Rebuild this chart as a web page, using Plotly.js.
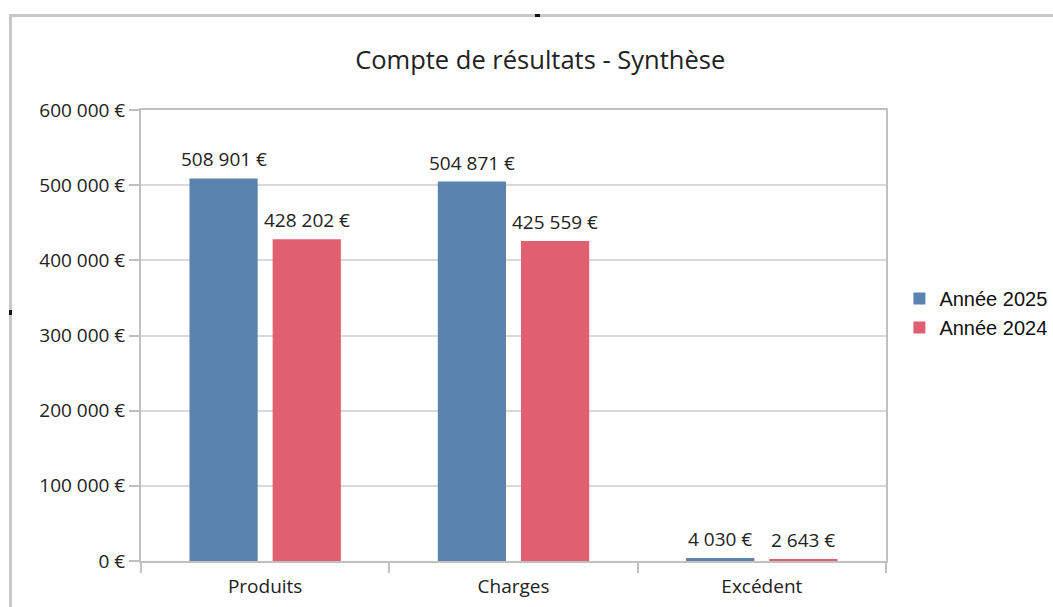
<!DOCTYPE html>
<html>
<head>
<meta charset="utf-8">
<script src="https://cdn.plot.ly/plotly-3.0.1.min.js"></script>
<style>
  body { margin: 0; background: #fff; }
  #chart { position: absolute; left: 0; top: 0; width: 1053px; height: 607px; }
  #frame { position: absolute; left: 9px; top: 14px; width: 1100px; height: 700px;
           border-top: 3px solid #c8c8c8; border-left: 3px solid #c8c8c8; pointer-events: none; }
  .mark { position: absolute; background: #111; }
</style>
</head>
<body>
<div id="chart"></div>
<div id="frame"></div>
<div class="mark" style="left:535px;top:14px;width:5px;height:3px;"></div>
<div class="mark" style="left:9px;top:310px;width:3px;height:5px;"></div>
<script>
const categories = ["Produits", "Charges", "Excédent"];
const series2025 = [508901, 504871, 4030];
const series2024 = [428202, 425559, 2643];
const seriesNames = ["Année 2025", "Année 2024"];
const yTicks = [0, 100000, 200000, 300000, 400000, 500000, 600000];

function fmt(v) {
  return String(Math.round(v)).replace(/\B(?=(\d{3})+(?!\d))/g, " ") + " €";
}

const fontFamily = "Open Sans, Noto Sans, sans-serif";
const labelFont = { family: fontFamily, size: 19, color: "#222" };

const traces = [
  { type: "bar", name: seriesNames[0], x: categories, y: series2025,
    marker: { color: "#5a83af" }, hoverinfo: "none" },
  { type: "bar", name: seriesNames[1], x: categories, y: series2024,
    marker: { color: "#e06070" }, hoverinfo: "none" }
];

const annotations = [];
[series2025, series2024].forEach((vals, si) => {
  vals.forEach((v, i) => {
    annotations.push({
      x: categories[i], y: v, xref: "x", yref: "y",
      text: fmt(v), showarrow: false,
      xanchor: "center", yanchor: "bottom",
      xshift: si === 0 ? -41.5 : 41.5, yshift: 4,
      font: labelFont
    });
  });
});

const layout = {
  width: 1053, height: 607,
  margin: { l: 141, r: 167, t: 110, b: 46, autoexpand: false },
  paper_bgcolor: "rgba(0,0,0,0)", plot_bgcolor: "#fff",
  barmode: "group", bargap: 0.33, bargroupgap: 0.18,
  title: { text: "Compte de résultats - Synthèse", x: 0.513, xref: "container", xanchor: "center",
           y: 0.901, yref: "container", yanchor: "middle",
           font: { family: fontFamily, size: 25.5, color: "#222" } },
  xaxis: { type: "category", tickson: "boundaries", ticks: "outside", ticklen: 10, tickwidth: 2,
           tickcolor: "#c0c0c0", showgrid: false, showline: true, linecolor: "#c0c0c0", linewidth: 2,
           mirror: true, tickfont: labelFont, ticklabelstandoff: 7, fixedrange: true },
  yaxis: { range: [0, 600000], tickvals: yTicks, ticktext: yTicks.map(fmt),
           ticks: "outside", ticklen: 10, tickwidth: 2, tickcolor: "#c0c0c0",
           showgrid: true, gridcolor: "#d9d9d9", gridwidth: 2, zeroline: false,
           showline: true, linecolor: "#c0c0c0", linewidth: 2, mirror: true,
           tickfont: labelFont, fixedrange: true },
  legend: { x: 1.018, xanchor: "left", y: 0.55, yanchor: "middle",
            font: { family: "Liberation Sans, Arial, sans-serif", size: 20, color: "#111" },
            itemwidth: 30 },
  annotations: annotations,
  showlegend: true
};

Plotly.newPlot("chart", traces, layout, { staticPlot: true });
</script>
</body>
</html>
